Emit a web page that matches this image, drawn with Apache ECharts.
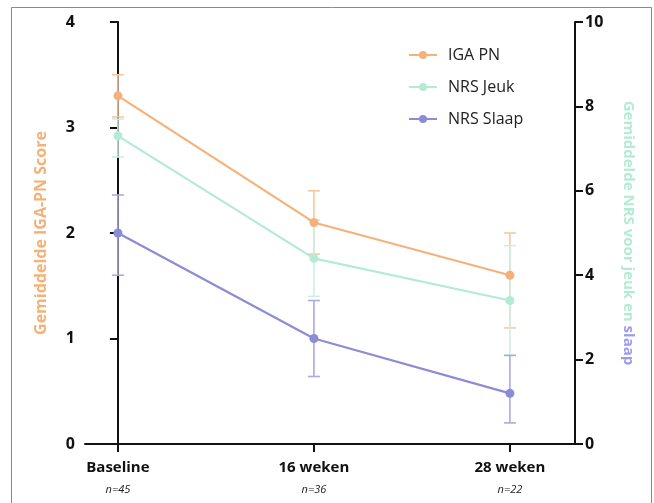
<!DOCTYPE html>
<html>
<head>
<meta charset="utf-8">
<script src="https://cdn.jsdelivr.net/npm/echarts@6/dist/echarts.min.js"></script>
<style>
  html, body { margin: 0; padding: 0; background: #fff; }
  #chart { width: 654px; height: 503px; }
</style>
</head>
<body>
<div id="chart"></div>
<script>
// tijdpunten en groepsgrootte
var categories = ['Baseline', '16 weken', '28 weken'];
var groupSizes = ['n=45', 'n=36', 'n=22'];

// IGA PN (linker as)
var igaMean = [3.3, 2.1, 1.6];
var igaLow = [3.1, 1.8, 1.1];
var igaHigh = [3.5, 2.4, 2.0];

// NRS jeuk (rechter as)
var jeukMean = [7.3, 4.4, 3.4];
var jeukLow = [6.8, 3.5, 2.1];
var jeukHigh = [7.7, 5.3, 4.7];

// NRS slaap (rechter as)
var slaapMean = [5.0, 2.5, 1.2];
var slaapLow = [4.0, 1.6, 0.5];
var slaapHigh = [5.9, 3.4, 2.1];

var colors = {
    iga: '#f4b27a', igaBar: '#f7c9a0',
    jeuk: '#b3ebd5', jeukBar: '#c9f1e2',
    slaap: '#8c8cd6', slaapBar: '#aaaadf'
};

var chart = echarts.init(document.getElementById('chart'));

function points(values) {
    return values.map(function (v, i) { return [i, v]; });
}

function ranges(low, high) {
    return low.map(function (l, i) { return [i, l, high[i]]; });
}

// foutbalken met kapjes
function errorBars(name, low, high, color, axis) {
    return {
        type: 'custom',
        name: name + ' fout',
        yAxisIndex: axis,
        z: 1,
        silent: true,
        itemStyle: { color: color },
        data: ranges(low, high),
        encode: { x: 0, y: [1, 2] },
        renderItem: function (params, api) {
            var lo = api.coord([api.value(0), api.value(1)]);
            var hi = api.coord([api.value(0), api.value(2)]);
            var w = 6;
            var style = { stroke: color, lineWidth: 1.6 };
            return {
                type: 'group',
                children: [
                    { type: 'line', shape: { x1: lo[0], y1: lo[1], x2: hi[0], y2: hi[1] }, style: style },
                    { type: 'line', shape: { x1: lo[0] - w, y1: lo[1], x2: lo[0] + w, y2: lo[1] }, style: style },
                    { type: 'line', shape: { x1: hi[0] - w, y1: hi[1], x2: hi[0] + w, y2: hi[1] }, style: style }
                ]
            };
        }
    };
}

function lineSeries(name, values, color, axis) {
    return {
        type: 'line',
        name: name,
        yAxisIndex: axis,
        z: 3,
        data: points(values),
        symbol: 'circle',
        symbolSize: 9,
        lineStyle: { color: color, width: 2.2 },
        itemStyle: { color: color }
    };
}

var axisText = { color: '#111', fontWeight: 'bold', fontSize: 16, fontFamily: 'Open Sans' };

var option = {
    animation: false,
    backgroundColor: '#fff',
    graphic: [{
        type: 'rect',
        shape: { x: 11.5, y: 7.5, width: 640, height: 500 },
        style: { fill: 'none', stroke: '#8a8a8a', lineWidth: 1 },
        silent: true
    }],
    grid: { left: 85, right: 79, top: 22, bottom: 59 },
    legend: {
        orient: 'vertical',
        left: 403,
        top: 42,
        itemGap: 16,
        itemWidth: 28,
        itemHeight: 10,
        data: ['IGA PN', 'NRS Jeuk', 'NRS Slaap'],
        textStyle: { color: '#222', fontSize: 16, fontFamily: 'Open Sans', padding: [0, 0, 0, 6] }
    },
    xAxis: {
        type: 'value',
        min: -0.168,
        max: 2.332,
        splitLine: { show: false },
        axisLine: { onZero: false, lineStyle: { color: '#111', width: 2 } },
        axisTick: { customValues: [0, 1, 2], length: 8, lineStyle: { color: '#111', width: 2 } },
        axisLabel: {
            customValues: [0, 1, 2],
            margin: 13,
            formatter: function (v) {
                var i = Math.round(v);
                return '{cat|' + categories[i] + '}\n{n|' + groupSizes[i] + '}';
            },
            rich: {
                cat: { color: '#111', fontWeight: 'bold', fontSize: 15, fontFamily: 'Open Sans', lineHeight: 22 },
                n: { color: '#222', fontStyle: 'italic', fontSize: 11, fontFamily: 'Open Sans', lineHeight: 22 }
            }
        }
    },
    yAxis: [{
        type: 'value',
        position: 'left',
        min: 0,
        max: 4,
        interval: 1,
        splitLine: { show: false },
        axisLine: { show: true, lineStyle: { color: '#111', width: 2 } },
        axisTick: { show: true, length: 8, lineStyle: { color: '#111', width: 2 } },
        axisLabel: Object.assign({ margin: 10 }, axisText),
        name: 'Gemiddelde IGA-PN Score',
        nameLocation: 'middle',
        nameGap: 36,
        nameTextStyle: { color: colors.iga, fontWeight: 'bold', fontSize: 16, fontFamily: 'Open Sans' }
    }, {
        type: 'value',
        position: 'right',
        min: 0,
        max: 10,
        interval: 2,
        splitLine: { show: false },
        axisLine: { show: true, lineStyle: { color: '#111', width: 2 } },
        axisTick: { show: true, length: 8, lineStyle: { color: '#111', width: 2 } },
        axisLabel: Object.assign({ margin: 10 }, axisText),
        name: '{g|Gemiddelde NRS voor jeuk en }{p|slaap}',
        nameLocation: 'middle',
        nameRotate: -90,
        nameGap: 46,
        nameTextStyle: {
            rich: {
                g: { color: colors.jeuk, fontWeight: 'bold', fontSize: 15, fontFamily: 'Open Sans' },
                p: { color: '#9b9bef', fontWeight: 'bold', fontSize: 15, fontFamily: 'Open Sans' }
            }
        }
    }],
    series: [
        errorBars('IGA PN', igaLow, igaHigh, colors.igaBar, 0),
        errorBars('NRS Jeuk', jeukLow, jeukHigh, colors.jeukBar, 1),
        errorBars('NRS Slaap', slaapLow, slaapHigh, colors.slaapBar, 1),
        lineSeries('IGA PN', igaMean, colors.iga, 0),
        lineSeries('NRS Jeuk', jeukMean, colors.jeuk, 1),
        lineSeries('NRS Slaap', slaapMean, colors.slaap, 1)
    ]
};

chart.setOption(option);
</script>
</body>
</html>
